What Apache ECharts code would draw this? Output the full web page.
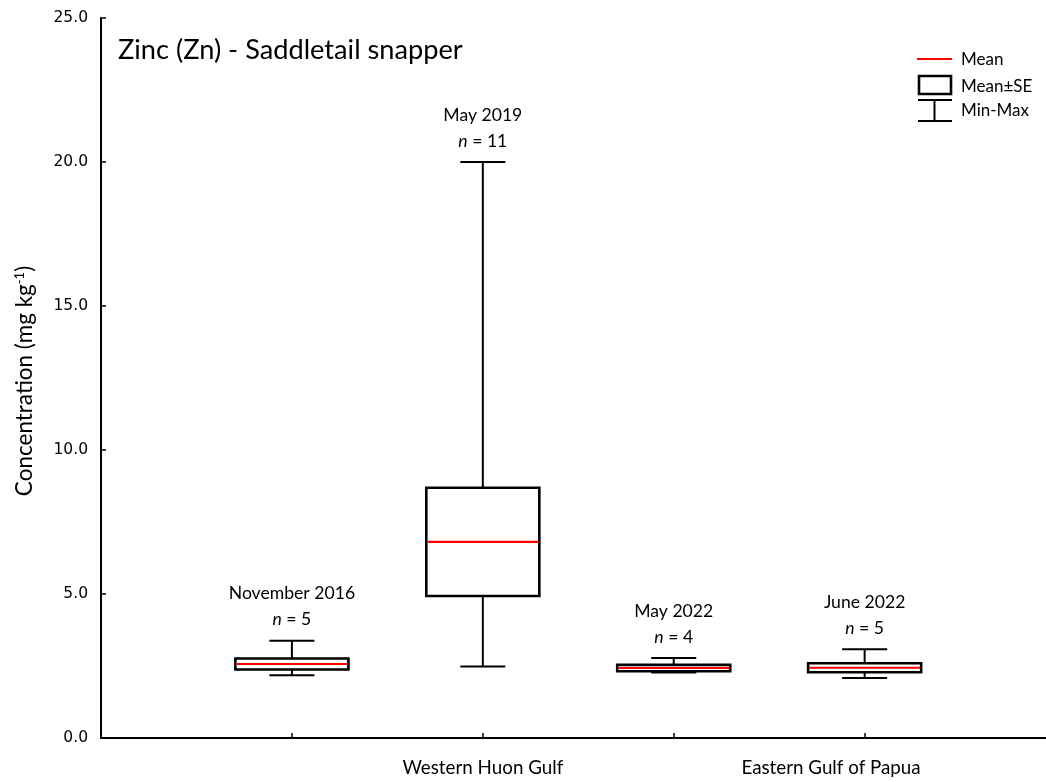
<!DOCTYPE html>
<html>
<head>
<meta charset="utf-8">
<script src="https://cdn.jsdelivr.net/npm/echarts@6/dist/echarts.min.js"></script>
<style>
  html, body { margin: 0; padding: 0; background: #ffffff; }
  #chart { width: 1046px; height: 782px; }
</style>
</head>
<body>
<div id="chart"></div>
<script>
// Zinc concentrations in saddletail snapper, one box per survey
const surveys      = ['November 2016', 'May 2019', 'May 2022', 'June 2022'];
const positions    = [1, 2, 3, 4];
const sampleSizes  = [5, 11, 4, 5];
const means        = [2.57, 6.81, 2.43, 2.44];
const stdErrors    = [0.19, 1.88, 0.11, 0.155];
const minima       = [2.18, 2.48, 2.27, 2.08];
const maxima       = [3.38, 20.0, 2.78, 3.08];

// Region labels along the x axis
const regions         = ['Western Huon Gulf', 'Eastern Gulf of Papua'];
const regionPositions = [2, 3.824];

const FONT = 'Lato, "Noto Sans", sans-serif';
const BOX_W = 0.592;   // box width in x-axis units
const CAP_W = 0.236;   // whisker cap width in x-axis units

const rows = positions.map((p, i) => [
  p, minima[i], means[i] - stdErrors[i], means[i], means[i] + stdErrors[i], maxima[i], sampleSizes[i], i
]);

function renderBox(params, api) {
  const x = api.value(0);
  const pMin  = api.coord([x, api.value(1)]);
  const pLo   = api.coord([x, api.value(2)]);
  const pMean = api.coord([x, api.value(3)]);
  const pHi   = api.coord([x, api.value(4)]);
  const pMax  = api.coord([x, api.value(5)]);
  const n = api.value(6);
  const idx = api.value(7);
  const half = api.size([BOX_W, 0])[0] / 2;
  const cap = api.size([CAP_W, 0])[0] / 2;
  const cx = pMin[0];
  const stroke = { stroke: '#000', lineWidth: 2 };
  return {
    type: 'group',
    children: [
      { type: 'line', shape: { x1: cx, y1: pMin[1], x2: cx, y2: pLo[1] }, style: stroke },
      { type: 'line', shape: { x1: cx, y1: pHi[1], x2: cx, y2: pMax[1] }, style: stroke },
      { type: 'line', shape: { x1: cx - cap, y1: pMin[1], x2: cx + cap, y2: pMin[1] }, style: stroke },
      { type: 'line', shape: { x1: cx - cap, y1: pMax[1], x2: cx + cap, y2: pMax[1] }, style: stroke },
      { type: 'rect', shape: { x: cx - half, y: pHi[1], width: half * 2, height: pLo[1] - pHi[1] },
        style: { fill: '#fff', stroke: '#000', lineWidth: 2.6 } },
      { type: 'line', shape: { x1: cx - half + 1, y1: pMean[1], x2: cx + half - 1, y2: pMean[1] },
        style: { stroke: '#ff0000', lineWidth: 2.2 } },
      { type: 'text', x: cx, y: pMax[1] - 47,
        style: { text: surveys[idx], font: '17.6px ' + FONT, fill: '#000', align: 'center', verticalAlign: 'middle' } },
      { type: 'text', x: cx, y: pMax[1] - 21,
        style: { text: '{it|n} = ' + n, font: '17.6px ' + FONT, fill: '#000', align: 'center', verticalAlign: 'middle',
          rich: { it: { fontStyle: 'italic', fontSize: 17.6, fontFamily: FONT } } } }
    ]
  };
}

const chart = echarts.init(document.getElementById('chart'), null, { renderer: 'canvas' });

chart.setOption({
  backgroundColor: '#ffffff',
  animation: false,
  grid: { left: 101, right: 0, top: 18, bottom: 44, containLabel: false },
  xAxis: {
    type: 'value', min: 0, max: 4.95,
    splitLine: { show: false },
    axisLine: { lineStyle: { color: '#000', width: 2 } },
    axisTick: { inside: true, length: 5, lineStyle: { color: '#000', width: 1.5 }, customValues: positions },
    axisLabel: {
      customValues: regionPositions,
      margin: 20,
      color: '#000',
      fontFamily: FONT,
      fontSize: 18.8,
      formatter: v => {
        const k = regionPositions.findIndex(p => Math.abs(p - v) < 1e-6);
        return k >= 0 ? regions[k] : '';
      }
    }
  },
  yAxis: {
    type: 'value', min: 0, max: 25, interval: 5,
    splitLine: { show: false },
    axisLine: { show: true, lineStyle: { color: '#000', width: 2 } },
    axisTick: { show: true, inside: true, length: 5, lineStyle: { color: '#000', width: 1.5 } },
    axisLabel: { color: '#000', fontFamily: '"DejaVu Sans", Verdana, sans-serif', fontSize: 15.5, margin: 13,
      formatter: v => v.toFixed(1) }
  },
  series: [{
    type: 'custom',
    name: 'Zinc',
    clip: false,
    renderItem: renderBox,
    encode: { x: 0, y: [1, 5] },
    data: rows
  }],
  graphic: [
    { type: 'text', x: 118, y: 50,
      style: { text: 'Zinc (Zn) - Saddletail snapper', font: '27.2px ' + FONT, fill: '#000', verticalAlign: 'middle' } },
    { type: 'text', x: 25, y: 381, rotation: Math.PI / 2,
      style: { text: 'Concentration (mg kg{sup|-1})', font: '22.5px ' + FONT, fill: '#000',
        align: 'center', verticalAlign: 'middle',
        rich: { sup: { fontSize: 13, fontFamily: FONT, verticalAlign: 'top', padding: [0, 0, 10, 0] } } } },
    // legend
    { type: 'line', shape: { x1: 917, y1: 59, x2: 952, y2: 59 }, style: { stroke: '#ff0000', lineWidth: 2 } },
    { type: 'text', x: 961, y: 60, style: { text: 'Mean', font: '17px ' + FONT, fill: '#000', verticalAlign: 'middle' } },
    { type: 'rect', shape: { x: 919, y: 76, width: 32, height: 18 }, style: { fill: 'none', stroke: '#000', lineWidth: 2.6 } },
    { type: 'text', x: 961, y: 87, style: { text: 'Mean±SE', font: '17px ' + FONT, fill: '#000', verticalAlign: 'middle' } },
    { type: 'line', shape: { x1: 918, y1: 100, x2: 952, y2: 100 }, style: { stroke: '#000', lineWidth: 2 } },
    { type: 'line', shape: { x1: 934.5, y1: 100, x2: 934.5, y2: 121 }, style: { stroke: '#000', lineWidth: 2 } },
    { type: 'line', shape: { x1: 918, y1: 121, x2: 952, y2: 121 }, style: { stroke: '#000', lineWidth: 2 } },
    { type: 'text', x: 961, y: 111, style: { text: 'Min-Max', font: '17px ' + FONT, fill: '#000', verticalAlign: 'middle' } }
  ]
});
</script>
</body>
</html>
